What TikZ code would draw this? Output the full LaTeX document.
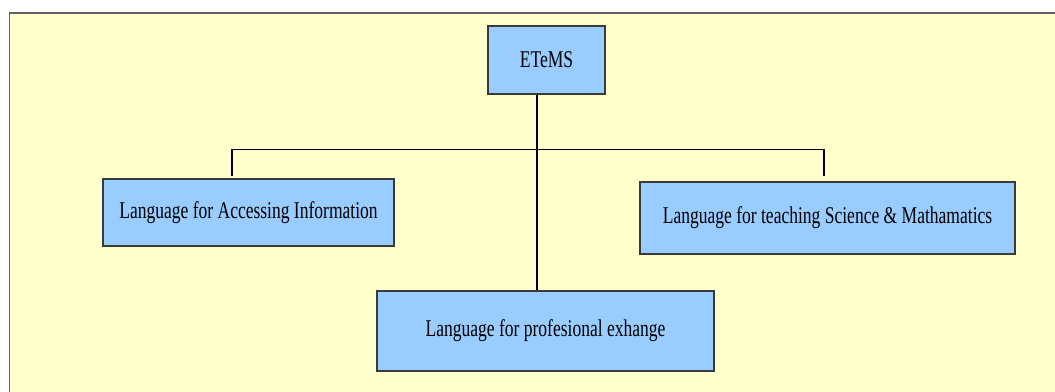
\documentclass[tikz,border=0pt]{standalone}
\usepackage{fontspec}
\setmainfont{Liberation Serif}[FakeStretch=0.73]
\usetikzlibrary{positioning}

\definecolor{paper}{HTML}{FFFFCC}
\definecolor{boxblue}{HTML}{99CCFF}
\definecolor{rim}{HTML}{3A3A3A}

\tikzset{
  topic/.style={draw=rim, line width=1pt, fill=boxblue, inner sep=0pt,
    font=\fontsize{18}{20}\selectfont},
  link/.style={line width=0.8pt, black}
}

\begin{document}
\begin{tikzpicture}[x=0.75pt,y=-0.75pt]
            \useasboundingbox (0,0) rectangle (1055,392);
            \clip (0,0) rectangle (1055,392);
            % background panel, running off the right and bottom edges
            \draw [draw = rim!80, line width = 1.2pt, fill = paper] (9.5,13) rectangle (1070,410);
            % boxes
            \node [topic, minimum width = 117*0.75pt, minimum height = 68*0.75pt] (etems) at (546.5,60) {ETeMS};
            \node [topic, minimum width = 291*0.75pt, minimum height = 67*0.75pt] (access) at (248.5,212.5) {Language for Accessing Information};
            \node [topic, minimum width = 375*0.75pt, minimum height = 72*0.75pt] (teach) at (827.5,218) {Language for teaching Science \& Mathamatics};
            \node [topic, minimum width = 337*0.75pt, minimum height = 80*0.75pt] (prof) at (545.5,331) {Language for profesional exhange};
            % tree lines
            \coordinate (trunk) at (537,149.5);
            \coordinate (bar-l) at (232,149.5);
            \coordinate (bar-r) at (824,149.5);
            \coordinate (tick-l) at (232,176);
            \coordinate (tick-r) at (824,176);
            \draw [link] (etems.south -| trunk) -- (prof.north -| trunk);
            \draw [link] (tick-l) -- (bar-l) -- (bar-r) -- (tick-r);
        \end{tikzpicture}
\end{document}
